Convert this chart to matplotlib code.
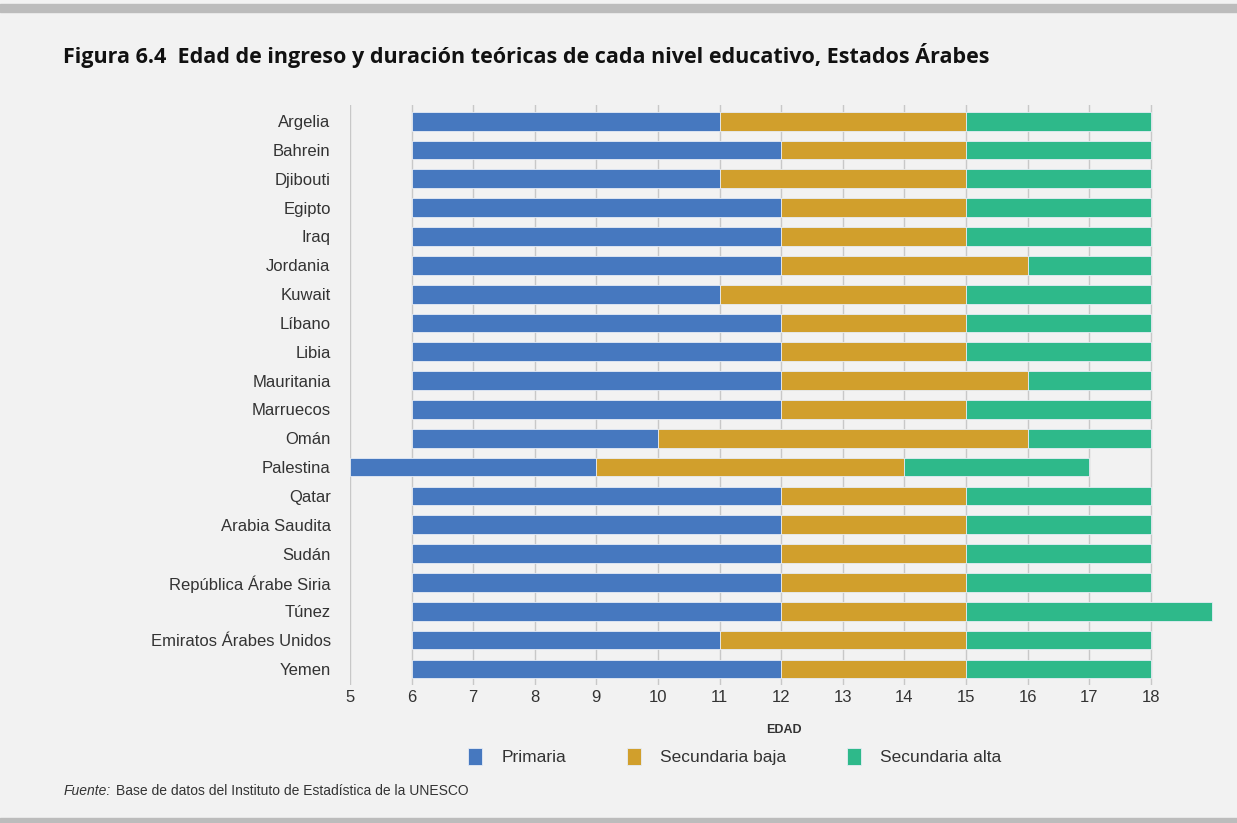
import numpy as np
import matplotlib.pyplot as plt
from matplotlib.patches import Rectangle

paises = ["Argelia", "Bahrein", "Djibouti", "Egipto", "Iraq", "Jordania", "Kuwait",
          "Líbano", "Libia", "Mauritania", "Marruecos", "Omán", "Palestina", "Qatar",
          "Arabia Saudita", "Sudán", "República Árabe Siria", "Túnez",
          "Emiratos Árabes Unidos", "Yemen"]
# edad de ingreso a cada nivel y edad de salida
ingreso_primaria = [6, 6, 6, 6, 6, 6, 6, 6, 6, 6, 6, 6, 5, 6, 6, 6, 6, 6, 6, 6]
ingreso_sec_baja = [11, 12, 11, 12, 12, 12, 11, 12, 12, 12, 12, 10, 9, 12, 12, 12, 12, 12, 11, 12]
ingreso_sec_alta = [15, 15, 15, 15, 15, 16, 15, 15, 15, 16, 15, 16, 14, 15, 15, 15, 15, 15, 15, 15]
salida = [18, 18, 18, 18, 18, 18, 18, 18, 18, 18, 18, 18, 17, 18, 18, 18, 18, 19, 18, 18]

niveles = ["Primaria", "Secundaria baja", "Secundaria alta"]
colores = ["#4678bf", "#d19f2c", "#2eb98a"]

bg = "#f2f2f2"
plt.rcParams["font.family"] = ["Liberation Sans", "DejaVu Sans"]

fig = plt.figure(figsize=(12.37, 8.23), dpi=100, facecolor=bg)
ax = fig.add_axes([0.283, 0.168, 0.702, 0.704], facecolor=bg)

y = np.arange(len(paises))
p0 = np.array(ingreso_primaria)
p1 = np.array(ingreso_sec_baja)
p2 = np.array(ingreso_sec_alta)
p3 = np.array(salida)

for left, right, col, lab in [(p0, p1, colores[0], niveles[0]),
                              (p1, p2, colores[1], niveles[1]),
                              (p2, p3, colores[2], niveles[2])]:
    ax.barh(y, right - left, left=left, height=0.65, color=col, label=lab,
            edgecolor="#e6ecf5", linewidth=0.6, zorder=3)

ax.set_xlim(5, 19.1)
ax.set_ylim(len(paises) - 0.45, -0.55)
ax.set_xticks(range(5, 19))
ax.set_yticks(y)
ax.set_yticklabels(paises)
ax.tick_params(axis="both", length=0, labelsize=12, colors="#333333")
ax.tick_params(axis="y", pad=14)
ax.grid(axis="x", color="#c8c8c8", linewidth=1, zorder=0)
for s in ax.spines.values():
    s.set_visible(False)
ax.set_xlabel("EDAD", fontsize=9, fontweight="bold", color="#333333", labelpad=14)

ax.legend(loc="center", bbox_to_anchor=(0.443, -0.124), ncol=3, frameon=False,
          fontsize=12.5, handlelength=0.8, handleheight=1.2, columnspacing=3.5,
          handletextpad=1.1, labelcolor="#333333")

fig.text(0.051, 0.932, "Figura 6.4  Edad de ingreso y duración teóricas de cada nivel educativo, Estados Árabes",
         fontsize=15.5, fontweight="bold", family=["Open Sans", "DejaVu Sans"], color="#111111", va="center")
fig.text(0.051, 0.039, "Fuente:", fontsize=10, style="italic", color="#333333", va="center")
fig.text(0.0935, 0.039, "Base de datos del Instituto de Estadística de la UNESCO",
         fontsize=10, color="#333333", va="center")

# bandas grises arriba y abajo
fig.patches.append(Rectangle((0, 0.986), 1, 0.009, transform=fig.transFigure, color="#bcbcbc"))
fig.patches.append(Rectangle((0, 0.0), 1, 0.006, transform=fig.transFigure, color="#bcbcbc"))

fig.savefig("out.png", dpi=100, facecolor=bg)
